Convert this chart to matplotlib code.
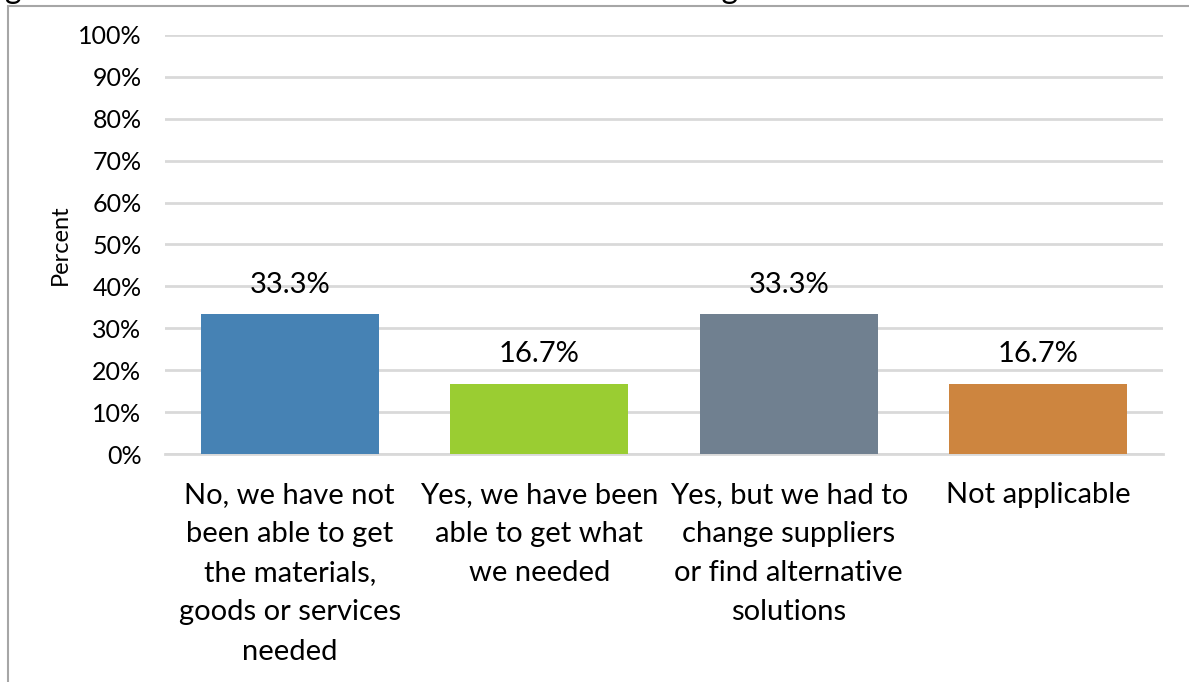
import matplotlib.pyplot as plt
from matplotlib.patches import Rectangle
from matplotlib.ticker import PercentFormatter

plt.rcParams['font.family'] = ['Lato', 'DejaVu Sans']

# Data
categories = [
    'No, we have not\nbeen able to get\nthe materials,\ngoods or services\nneeded',
    'Yes, we have been\nable to get what\nwe needed',
    'Yes, but we had to\nchange suppliers\nor find alternative\nsolutions',
    'Not applicable',
]
values = [33.3, 16.7, 33.3, 16.7]
colors = ['#4682B4', '#9ACD32', '#708090', '#CD853F']
y_ticks = list(range(0, 101, 10))
title_text = 'goods or services needed from within the UK during the coronavirus outbreak?'

fig = plt.figure(figsize=(11.89, 6.82), dpi=100)
ax = fig.add_axes([165 / 1189, 1 - 454 / 682, 998 / 1189, 419 / 682])

# outer frame of the chart area
fig.patches.append(Rectangle((8 / 1189, -0.01), 1.0, 1 - 6 / 682 + 0.01,
                             transform=fig.transFigure, fill=False,
                             edgecolor='#A6A6A6', linewidth=1.5))
# cut-off question text above the frame
fig.text(5 / 1189, 1 + 2 / 682, title_text, fontsize=23, va='baseline', ha='left')

x = range(len(categories))
bars = ax.bar(x, values, width=0.713, color=colors, zorder=3)

for b, v in zip(bars, values):
    ax.annotate(f'{v:.1f}%', (b.get_x() + b.get_width() / 2, v),
                xytext=(0, 12), textcoords='offset points',
                ha='center', va='bottom', fontsize=21)

ax.set_ylim(0, 100)
ax.set_xlim(-0.5, len(categories) - 0.5)
ax.set_yticks(y_ticks)
ax.yaxis.set_major_formatter(PercentFormatter(decimals=0))
ax.set_xticks(list(x))
ax.set_xticklabels(categories, fontsize=21, linespacing=1.63, va='top')
ax.tick_params(axis='x', length=0, pad=20)
ax.tick_params(axis='y', length=0, pad=17, labelsize=18)
ax.grid(axis='y', color='#D9D9D9', linewidth=2, zorder=0)
for s in ['top', 'right', 'left']:
    ax.spines[s].set_visible(False)
ax.spines['bottom'].set_color('#D9D9D9')
ax.spines['bottom'].set_linewidth(2)
ax.set_ylabel('Percent', fontsize=17, labelpad=5)

fig.savefig('out.png', dpi=100)
